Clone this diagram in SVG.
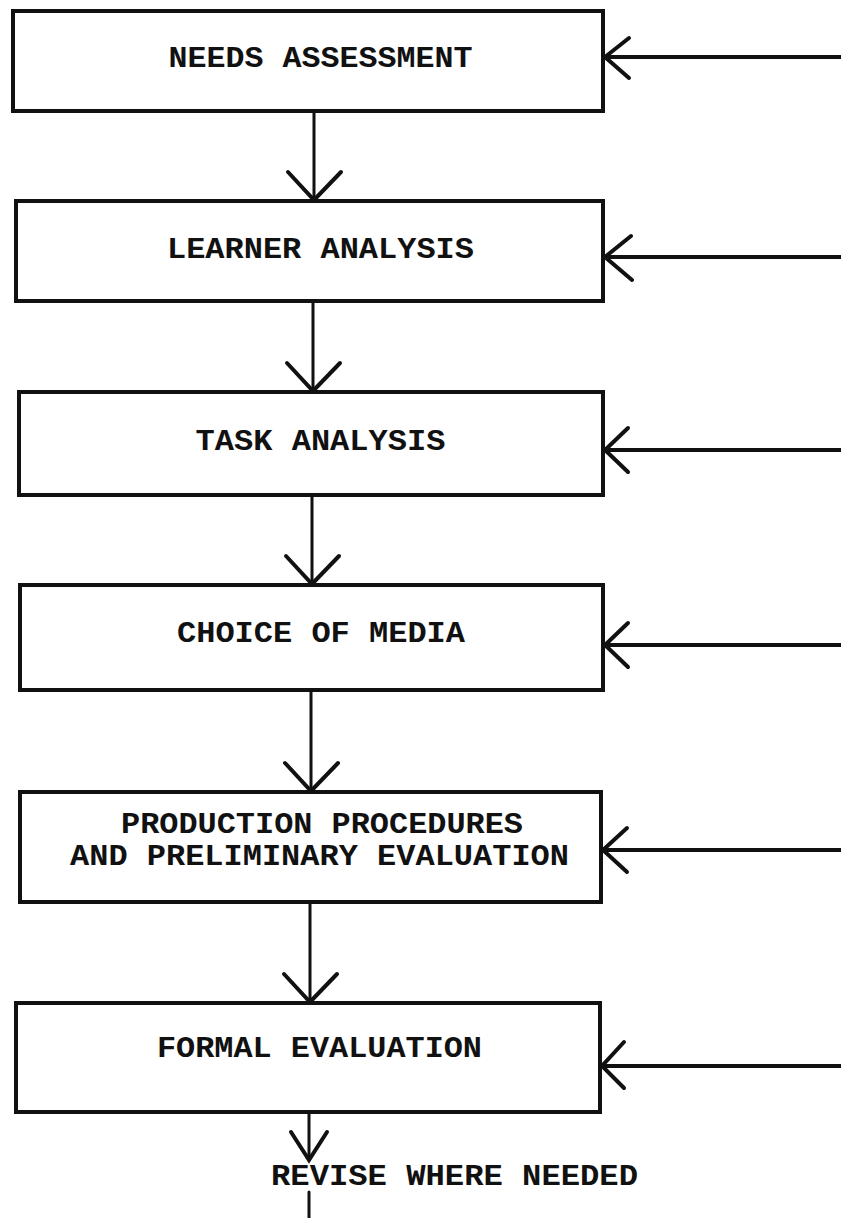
<svg xmlns="http://www.w3.org/2000/svg" width="841" height="1218" viewBox="0 0 841 1218">
<style>
.box{fill:#fff;stroke:#111;stroke-width:4}
.lbl{font-family:"Liberation Mono",monospace;font-weight:bold;font-size:29px;fill:#111;text-anchor:middle}
.ln{stroke:#111;fill:none;stroke-linecap:round}
.v{stroke-width:3}
.h{stroke-width:4}
.head{stroke:#111;fill:none;stroke-width:4;stroke-linecap:round;stroke-linejoin:miter}
</style>
<rect width="841" height="1218" fill="#fff"/>
<g id="node-needs"><rect class="box" x="13" y="11" width="590" height="100"/><text class="lbl" x="320.5" y="67" textLength="304" lengthAdjust="spacingAndGlyphs">NEEDS ASSESSMENT</text></g>
<g id="node-learner"><rect class="box" x="16" y="201" width="587" height="100"/><text class="lbl" x="320.5" y="258" textLength="307" lengthAdjust="spacingAndGlyphs">LEARNER ANALYSIS</text></g>
<g id="node-task"><rect class="box" x="19" y="392" width="584" height="103"/><text class="lbl" x="320.5" y="450" textLength="250" lengthAdjust="spacingAndGlyphs">TASK ANALYSIS</text></g>
<g id="node-media"><rect class="box" x="20" y="585" width="583" height="105"/><text class="lbl" x="321" y="642" textLength="288" lengthAdjust="spacingAndGlyphs">CHOICE OF MEDIA</text></g>
<g id="node-production"><rect class="box" x="20" y="792" width="581" height="110"/><text class="lbl" x="322" y="833" textLength="402" lengthAdjust="spacingAndGlyphs">PRODUCTION PROCEDURES</text><text class="lbl" x="319.5" y="865" textLength="499" lengthAdjust="spacingAndGlyphs">AND PRELIMINARY EVALUATION</text></g>
<g id="node-formal"><rect class="box" x="16" y="1003" width="584" height="109"/><text class="lbl" x="319.5" y="1057" textLength="325" lengthAdjust="spacingAndGlyphs">FORMAL EVALUATION</text></g>
<g id="label-revise"><text class="lbl" x="454.5" y="1185" textLength="367" lengthAdjust="spacingAndGlyphs">REVISE WHERE NEEDED</text></g>
<g id="connectors">
<line class="ln v" x1="314" y1="111" x2="314" y2="200"/>
<polyline class="head" points="288,172 314,200 341,172"/>
<line class="ln v" x1="313" y1="301" x2="313" y2="391"/>
<polyline class="head" points="287,363 313,391 340,363"/>
<line class="ln v" x1="312" y1="495" x2="312" y2="584"/>
<polyline class="head" points="286,556 312,584 339,556"/>
<line class="ln v" x1="311" y1="690" x2="311" y2="791"/>
<polyline class="head" points="285,763 311,791 338,763"/>
<line class="ln v" x1="310" y1="902" x2="310" y2="1002"/>
<polyline class="head" points="284,974 310,1002 337,974"/>
<line class="ln v" x1="309" y1="1112" x2="309" y2="1160"/>
<polyline class="head" points="291,1132 309,1160 327,1132"/>
<line class="ln v" x1="309" y1="1192" x2="309" y2="1218"/>
<line class="ln h" x1="605" y1="57" x2="841" y2="57"/>
<polyline class="head" points="629,38 605,57 629,78"/>
<line class="ln h" x1="605" y1="257" x2="841" y2="257"/>
<polyline class="head" points="631,236 605,257 632,280"/>
<line class="ln h" x1="605" y1="450" x2="841" y2="450"/>
<polyline class="head" points="628,428 605,450 628,472"/>
<line class="ln h" x1="605" y1="645" x2="841" y2="645"/>
<polyline class="head" points="628,623 605,645 628,667"/>
<line class="ln h" x1="603" y1="850" x2="841" y2="850"/>
<polyline class="head" points="627,828 603,850 627,872"/>
<line class="ln h" x1="602" y1="1066" x2="841" y2="1066"/>
<polyline class="head" points="624,1042 602,1066 624,1088"/>
</g>
</svg>
